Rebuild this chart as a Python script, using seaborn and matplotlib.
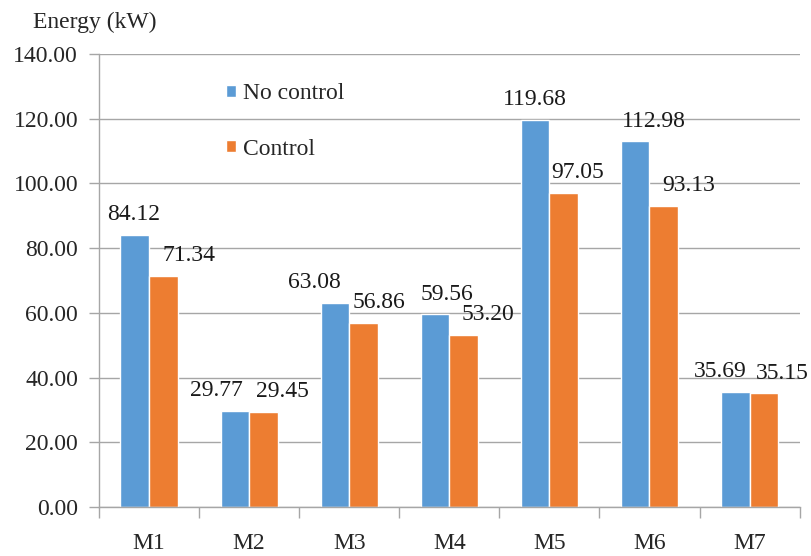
import pandas as pd
import seaborn as sns
import matplotlib.pyplot as plt
from matplotlib.ticker import FixedLocator, StrMethodFormatter

# data
machines = ['M1', 'M2', 'M3', 'M4', 'M5', 'M6', 'M7']
no_control = [84.12, 29.77, 63.08, 59.56, 119.68, 112.98, 35.69]
control = [71.34, 29.45, 56.86, 53.20, 97.05, 93.13, 35.15]
series = ['No control', 'Control']
colors = ['#5B9BD5', '#ED7D31']

# sideways nudge of the value labels (pixels), as they sit in the original
label_dx = [
    [-1, -18, -21, 12, 0, 19, -15],
    [26, 19, 15, 24, 14, 25, 18],
]

df = pd.DataFrame({
    'Machine': machines * 2,
    'Energy': no_control + control,
    'Series': [series[0]] * len(machines) + [series[1]] * len(machines),
})

sns.set_theme(style='white')
plt.rcParams['font.family'] = ['Liberation Serif', 'DejaVu Serif']
fs = 17

fig = plt.figure(figsize=(8.11, 5.56), dpi=100)
ax = fig.add_axes([0.122, 0.088, 0.864, 0.815])

sns.barplot(data=df, x='Machine', y='Energy', hue='Series', palette=colors,
            width=0.57, gap=0, saturation=1, ax=ax)

px = 72 / 100  # points per pixel
for cont, dxs in zip(ax.containers, label_dx):
    labels = ax.bar_label(cont, fmt='%.2f', padding=7, fontsize=fs, color='#1a1a1a')
    for t, dx in zip(labels, dxs):
        t.xyann = (dx * px, t.xyann[1])

ax.set_ylim(0, 140)
ax.set_xlim(-0.5, len(machines) - 0.5)
ax.set_yticks(range(0, 141, 20))
ax.yaxis.set_major_formatter(StrMethodFormatter('{x:.2f}'))
ax.yaxis.grid(True, color='#a6a6a6', linewidth=1)
ax.set_axisbelow(True)

for s in ['top', 'right']:
    ax.spines[s].set_visible(False)
for s in ['left', 'bottom']:
    ax.spines[s].set_color('#a6a6a6')
    ax.spines[s].set_linewidth(1)

# ticks between categories like the original
ax.xaxis.set_minor_locator(FixedLocator([i - 0.5 for i in range(len(machines) + 1)]))
ax.tick_params(axis='x', which='major', length=0, pad=19, labelsize=fs)
ax.tick_params(axis='x', which='minor', length=8, color='#a6a6a6', width=1, bottom=True)
ax.tick_params(axis='y', length=7, color='#a6a6a6', width=1, left=True, labelsize=fs, pad=8)

ax.set_xlabel('')
ax.set_ylabel('')
fig.text(0.041, 0.960, 'Energy (kW)', fontsize=fs, va='center', ha='left')

ax.legend(loc='upper left', bbox_to_anchor=(0.279, 0.850), bbox_transform=fig.transFigure,
          frameon=False, fontsize=fs, handlelength=0.42, handleheight=0.42,
          handletextpad=0.3, labelspacing=1.45, borderpad=0, borderaxespad=0)

plt.savefig('out.png', dpi=100)
